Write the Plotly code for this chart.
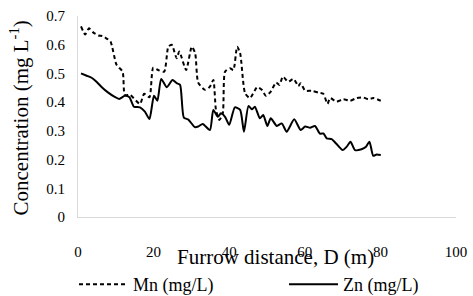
import plotly.graph_objects as go

mn_x = [0.8, 1.9, 2.9, 4.0, 5.4, 6.5, 7.4, 8.6, 10.2, 11.8, 12.4, 13.8, 16.4, 17.5, 18.9, 19.9,
        21.2, 22.8, 23.9, 24.8, 26.1, 26.8, 28.6, 30.1, 31.0, 31.8, 33.6, 34.9, 35.8, 36.5, 37.4,
        38.3, 38.9, 40.2, 41.1, 42.1, 42.9, 44.2, 45.5, 47.4, 48.6, 49.7, 51.0, 52.4, 53.3, 54.2,
        55.6, 57.0, 58.3, 58.9, 60.1, 61.8, 63.6, 64.9, 66.0, 66.7, 68.4, 70.2, 72.0, 73.7, 75.5,
        76.8, 78.1, 80.1]
mn_y = [0.664, 0.636, 0.657, 0.643, 0.632, 0.630, 0.623, 0.611, 0.530, 0.506, 0.425, 0.425, 0.394,
        0.429, 0.417, 0.520, 0.512, 0.506, 0.593, 0.600, 0.553, 0.576, 0.512, 0.593, 0.570, 0.468,
        0.443, 0.454, 0.477, 0.373, 0.338, 0.361, 0.506, 0.518, 0.512, 0.593, 0.570, 0.431, 0.414,
        0.452, 0.443, 0.422, 0.437, 0.468, 0.460, 0.489, 0.471, 0.481, 0.456, 0.466, 0.440, 0.440,
        0.433, 0.429, 0.394, 0.414, 0.402, 0.410, 0.405, 0.414, 0.416, 0.410, 0.414, 0.405]

zn_x = [0.8, 2.3, 3.6, 4.9, 6.3, 8.0, 9.6, 10.9, 12.4, 13.6, 14.8, 16.4, 17.7, 18.9, 20.1, 21.0,
        22.0, 23.5, 25.0, 26.1, 27.0, 28.0, 29.2, 30.9, 31.8, 33.0, 34.9, 35.8, 37.0, 37.8, 38.9,
        40.0, 41.5, 42.9, 43.9, 45.1, 46.0, 46.8, 48.1, 49.0, 50.1, 51.0, 52.6, 53.9, 55.2, 57.2,
        58.9, 60.1, 61.4, 62.7, 64.0, 64.9, 65.8, 67.1, 68.4, 70.0, 71.1, 72.1, 73.3, 75.0, 76.2,
        77.1, 78.1, 79.0, 80.1]
zn_y = [0.500, 0.492, 0.485, 0.471, 0.452, 0.433, 0.419, 0.411, 0.422, 0.417, 0.384, 0.382, 0.367,
        0.341, 0.422, 0.405, 0.481, 0.452, 0.477, 0.466, 0.460, 0.346, 0.339, 0.313, 0.315, 0.324,
        0.303, 0.373, 0.349, 0.361, 0.349, 0.321, 0.382, 0.373, 0.297, 0.387, 0.375, 0.384, 0.344,
        0.355, 0.317, 0.344, 0.317, 0.326, 0.297, 0.340, 0.303, 0.315, 0.311, 0.317, 0.290, 0.291,
        0.274, 0.271, 0.254, 0.233, 0.245, 0.262, 0.233, 0.236, 0.245, 0.262, 0.213, 0.218, 0.216]

x_ticks = [0, 20, 40, 60, 80, 100]
y_ticks = [0, 0.1, 0.2, 0.3, 0.4, 0.5, 0.6, 0.7]
y_tick_text = ["0", "0.1", "0.2", "0.3", "0.4", "0.5", "0.6", "0.7"]

FONT = "Liberation Serif"

fig = go.Figure()
fig.add_trace(go.Scatter(x=mn_x, y=mn_y, mode="lines", name="Mn (mg/L)", legend="legend",
                         line=dict(color="black", width=2, dash="4px,3px", shape="spline", smoothing=0.6)))
fig.add_trace(go.Scatter(x=zn_x, y=zn_y, mode="lines", name="Zn (mg/L)", legend="legend2",
                         line=dict(color="black", width=2, shape="spline", smoothing=0.6)))

leg_common = dict(orientation="h", xref="container", yref="container", xanchor="left",
                  yanchor="top", y=1 - 266 / 296, font=dict(size=18, family=FONT),
                  bgcolor="rgba(0,0,0,0)", itemwidth=49)

fig.update_layout(
    width=473, height=296,
    margin=dict(l=78, r=17, t=16, b=79, autoexpand=False),
    paper_bgcolor="white", plot_bgcolor="white",
    font=dict(family=FONT, color="black", size=15),
    showlegend=True,
    legend=dict(x=74 / 473, **leg_common),
    legend2=dict(x=284 / 473, **leg_common),
    xaxis=dict(range=[0, 100], tickvals=x_ticks, showgrid=False, zeroline=False,
               showline=True, linecolor="#d9d9d9", linewidth=1, ticks="", automargin=False,
               tickfont=dict(size=15, family=FONT), ticklabelstandoff=21),
    yaxis=dict(range=[0, 0.7], tickvals=y_ticks, ticktext=y_tick_text, showgrid=False,
               zeroline=False, showline=True, linecolor="#d9d9d9", linewidth=1, ticks="",
               automargin=False,
               tickfont=dict(size=15, family=FONT), ticklabelstandoff=9),
    annotations=[
        dict(text="Furrow distance, D (m)", xref="paper", yref="paper", x=197 / 378, y=-40 / 201,
             xanchor="center", yanchor="middle", showarrow=False, font=dict(size=21, family=FONT)),
        dict(text="Concentration (mg L<sup>-1</sup>)", xref="paper", yref="paper", x=-58 / 378, y=0.49,
             xanchor="center", yanchor="middle", textangle=-90, showarrow=False,
             font=dict(size=21, family=FONT)),
    ],
)

fig.write_html("out.html", config={"displayModeBar": False},
               post_script="document.body.style.margin='0px';document.body.style.overflow='hidden';")
